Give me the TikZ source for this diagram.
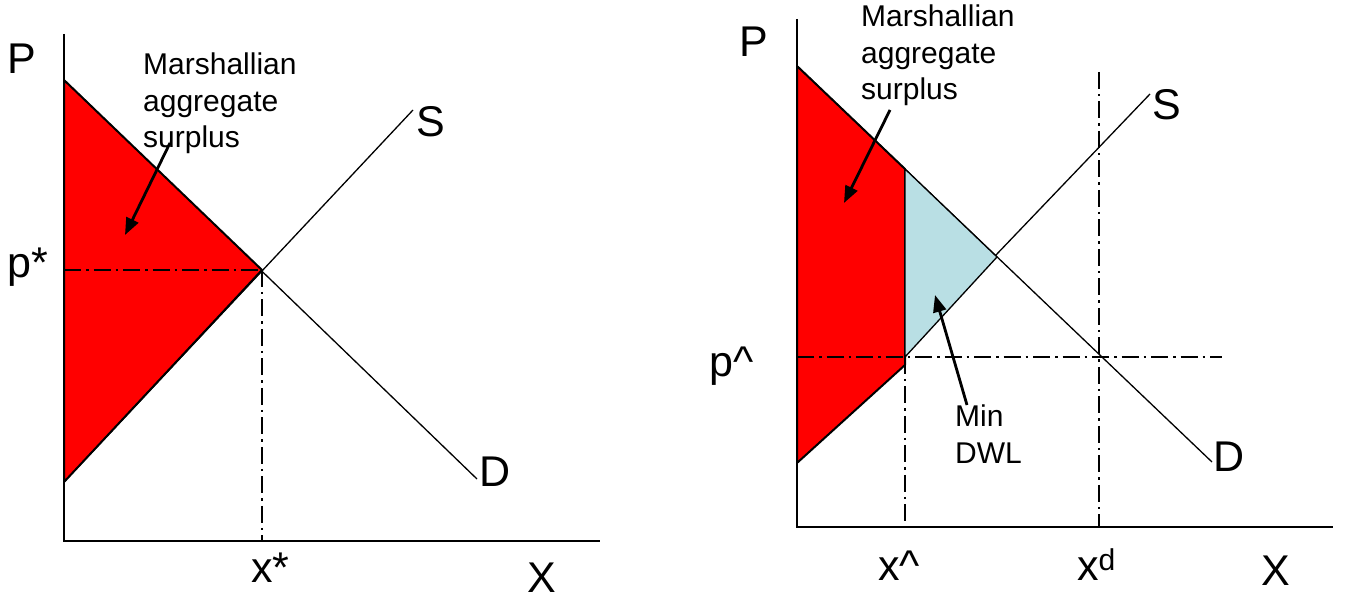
\documentclass[tikz,border=0pt]{standalone}
\usepackage{fontspec}
\setmainfont{Liberation Sans}
\usetikzlibrary{arrows.meta}
\definecolor{surp}{RGB}{255,0,0}
\definecolor{dwl}{RGB}{185,223,228}

\begin{document}
\begin{tikzpicture}[x=1pt,y=-1pt,>={Triangle[length=17pt,width=13pt]},
  axis/.style={line width=1.6pt},
  curve/.style={line width=1.3pt},
  guide/.style={line width=2.6pt,dash pattern=on 17pt off 5pt on 2.5pt off 5pt},
  area/.style={draw=black,line join=round},
  lbl/.style={inner sep=0pt,anchor=base west,font=\fontsize{43}{48}\selectfont},
  note/.style={inner sep=0pt,anchor=north west,align=left,font=\fontsize{30}{36.5}\selectfont},
  pointer/.style={->,line width=2.8pt}]
  \useasboundingbox (0,0) rectangle (1345,601);
  % left panel
  \coordinate (lO) at (64,541);
  \coordinate (lPtop) at (64,34);
  \coordinate (lXend) at (600,541);
  \coordinate (lDa) at (64,80);
  \coordinate (lDb) at (477,479);
  \coordinate (lSa) at (64,482);
  \coordinate (lSb) at (413,110);
  \coordinate (lE) at (262,270);
  \draw[curve] (lDa) -- (lDb);
  \draw[curve] (lSa) -- (lSb);
  \fill[area,fill=surp,line width=2pt] (lDa) -- (lE) -- (lSa) -- cycle;
  \draw[axis] (lPtop) -- (lO) -- (lXend);
  \draw[guide] (lO |- lE) -- (lE);
  \draw[guide] (lE) -- (lE |- lO);
  \node[lbl] (lP) at (7,74) {P};
  \node[lbl] (lpstar) at (7,278) {p*};
  \node[lbl] (lxstar) at (251,582) {x*};
  \node[lbl] (lX) at (527,592) {X};
  \node[lbl] (lS) at (416,137) {S};
  \node[lbl] (lD) at (479,487) {D};
  \node[note] (lmas) at (143,53) {Marshallian\\aggregate\\surplus};
  \coordinate (lmasTail) at (170,143);
  \coordinate (lmasTip) at (125,235);
  \draw[pointer] (lmasTail) -- (lmasTip);
  % right panel
  \coordinate (rO) at (797,527);
  \coordinate (rPtop) at (797,19);
  \coordinate (rXend) at (1333,527);
  \coordinate (rDa) at (797,66);
  \coordinate (rDb) at (1212,462);
  \coordinate (rSa) at (797,463);
  \coordinate (rSb) at (1150,94);
  \coordinate (rE) at (997,257);
  \coordinate (rH) at (905,169);
  \coordinate (rL) at (905,357);
  \coordinate (rLow) at (905,365);
  \coordinate (rXd) at (1099,72);
  \coordinate (rGend) at (1222,357);
  \draw[curve] (rDa) -- (rDb);
  \draw[curve] (rSa) -- (rSb);
  \fill[area,fill=surp,line width=2pt] (rDa) -- (rH) -- (rLow) -- (rSa) -- cycle;
  \fill[area,fill=dwl,line width=1.3pt] (rH) -- (rE) -- (rL) -- cycle;
  \draw[axis] (rPtop) -- (rO) -- (rXend);
  \draw[guide] (rO |- rL) -- (rGend);
  \draw[guide] (rL) -- (rL |- rO);
  \draw[guide] (rXd) -- (rXd |- rO);
  \node[lbl] (rP) at (739,57) {P};
  \node[lbl] (rphat) at (709,377) {p\textasciicircum};
  \node[lbl] (rxhat) at (878,580) {x\textasciicircum};
  \node[lbl] (rxd) at (1077,580) {x\textsuperscript{d}};
  \node[lbl] (rX) at (1261,585) {X};
  \node[lbl] (rS) at (1152,120) {S};
  \node[lbl] (rD) at (1213,472) {D};
  \node[note] (rmas) at (861,5) {Marshallian\\aggregate\\surplus};
  \node[note] (rdwl) at (955,405) {Min\\DWL};
  \coordinate (rmasTail) at (890,110);
  \coordinate (rmasTip) at (844,203);
  \coordinate (rdwlTail) at (967,405);
  \coordinate (rdwlTip) at (935,295);
  \draw[pointer] (rmasTail) -- (rmasTip);
  \draw[pointer] (rdwlTail) -- (rdwlTip);
\end{tikzpicture}
\end{document}
